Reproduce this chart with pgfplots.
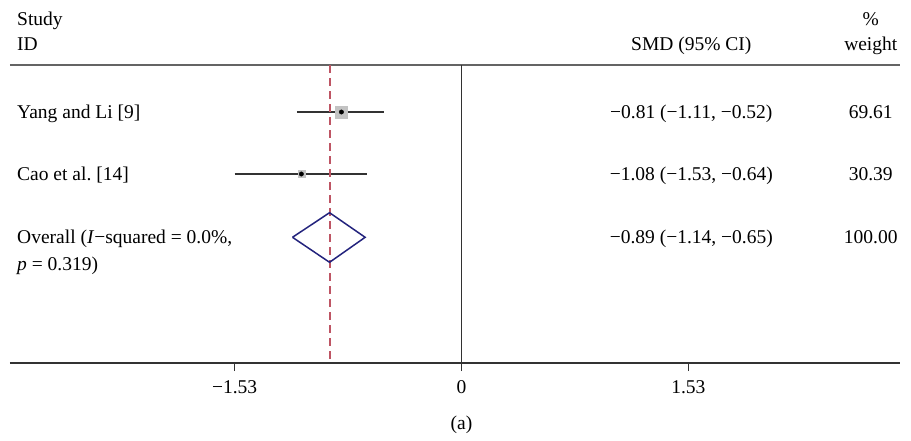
\documentclass[border=0pt]{standalone}
\usepackage{fontspec}
\setmainfont{Liberation Serif}
\usepackage{pgfplots}
\pgfplotsset{compat=1.18}
\definecolor{ci}{RGB}{50,50,50}
\definecolor{topline}{RGB}{100,100,100}
\definecolor{refred}{RGB}{190,85,100}
\definecolor{dia}{RGB}{35,35,125}
\definecolor{boxg}{RGB}{195,195,195}
\begin{document}
\fontsize{19.5}{23}\selectfont
\begin{tikzpicture}[font=\fontsize{19.5}{23}\selectfont]
\useasboundingbox (-10pt,-77pt) rectangle (901pt,363pt);
\begin{axis}[
  scale only axis, width=890pt, height=298pt,
  xmin=-3.045, xmax=2.957, ymin=-363, ymax=-65,
  axis x line*=bottom, axis y line=none,
  x axis line style={draw=ci, line width=1.6pt},
  xtick={-1.53,0,1.53}, xticklabels={−1.53,0,1.53},
  major tick length=8pt, tick align=outside,
  tick style={draw=ci, line width=1.4pt},
  xticklabel style={font=\fontsize{19.5}{23}\selectfont, anchor=base, inner sep=0pt, yshift=-22.5pt},
  clip=false,
  every node/.append style={inner sep=0pt},
]
% separator line under header
\addplot[draw=topline, line width=2.4pt, forget plot] coordinates {(-3.045,-65) (2.957,-65)};
% line of no effect
\addplot[draw=ci, line width=1.5pt, forget plot] coordinates {(0,-65) (0,-363)};
% confidence intervals
\addplot[draw=ci, line width=1.8pt, forget plot] coordinates {(-1.11,-112) (-0.52,-112)};
\addplot[draw=ci, line width=1.8pt, forget plot] coordinates {(-1.53,-174) (-0.64,-174)};
% weight boxes
\addplot[only marks, mark=square*, mark size=6pt, mark options={fill=boxg, draw=boxg}, forget plot] coordinates {(-0.81,-112)};
\addplot[only marks, mark=square*, mark size=3.6pt, mark options={fill=boxg, draw=boxg}, forget plot] coordinates {(-1.08,-174)};
% point estimates
\addplot[only marks, mark=*, mark size=2.2pt, mark options={fill=black, draw=black}, forget plot] coordinates {(-0.81,-112) (-1.08,-174)};
% overall effect reference line
\addplot[draw=refred, line width=1.9pt, dash pattern=on 8pt off 5pt, forget plot] coordinates {(-0.89,-65) (-0.89,-363)};
% pooled diamond
\addplot[draw=dia, line width=1.5pt, forget plot] coordinates {(-1.14,-237.3) (-0.89,-212.7) (-0.65,-237.3) (-0.89,-262.3) (-1.14,-237.3)};

% text columns
\node[anchor=base west] at (axis cs:-3.0416,-25) {Study};
\node[anchor=base west] at (axis cs:-3.0416,-50) {ID};
\node[anchor=base] at (axis cs:1.55,-50) {SMD (95\% CI)};
\node[anchor=base] at (axis cs:2.76,-25) {\%};
\node[anchor=base] at (axis cs:2.76,-50) {weight};

\node[anchor=base west] at (axis cs:-3.0416,-118) {Yang and Li [9]};
\node[anchor=base] at (axis cs:1.55,-118) {−0.81 (−1.11, −0.52)};
\node[anchor=base] at (axis cs:2.76,-118) {69.61};

\node[anchor=base west] at (axis cs:-3.0416,-180) {Cao et al.\ [14]};
\node[anchor=base] at (axis cs:1.55,-180) {−1.08 (−1.53, −0.64)};
\node[anchor=base] at (axis cs:2.76,-180) {30.39};

\node[anchor=base west] at (axis cs:-3.0416,-243) {Overall (\textit{I}−squared = 0.0\%,};
\node[anchor=base west] at (axis cs:-3.0416,-270) {\textit{p} = 0.319)};
\node[anchor=base] at (axis cs:1.55,-243) {−0.89 (−1.14, −0.65)};
\node[anchor=base] at (axis cs:2.76,-243) {100.00};

\node[anchor=center] at (axis cs:0,-425) {(a)};
\end{axis}
\end{tikzpicture}
\end{document}
